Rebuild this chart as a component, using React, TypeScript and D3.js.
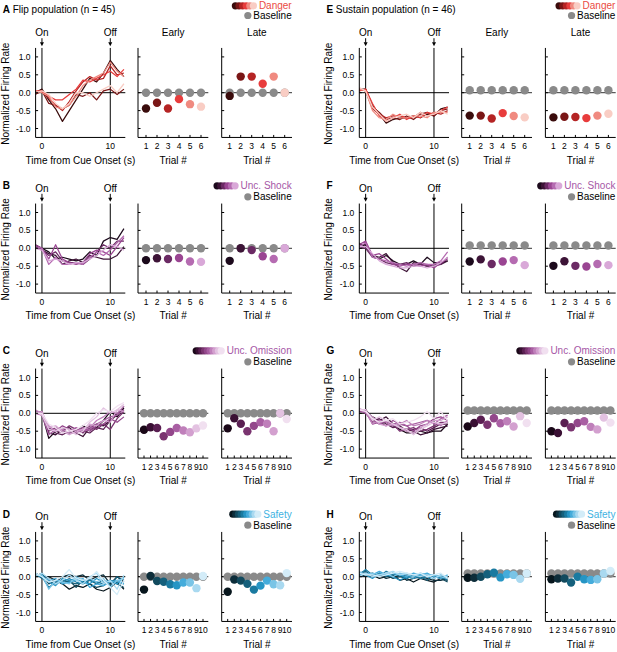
import React, { useEffect, useRef } from 'react';
import * as d3 from 'd3';

// time bins (s) for the population traces
const times = [-1, 0, 1, 2, 3, 4, 5, 6, 7, 8, 9, 10, 11, 12];
const yTicks = [1.0, 0.5, 0.0, -0.5, -1.0];
const yTickLabels = ['1.0', '0.5', '0.0', '-0.5', '-1.0'];
const xTicks = [0, 10];

// colour ramps (trial 1 = darkest)
const dangerColors = ['#3a0c0c', '#7a1616', '#b52424', '#e83c3c', '#f08a80', '#f9cdc4'];
const shockColors = ['#1c0a1c', '#3d1437', '#6b2a64', '#9a4592', '#b56bb1', '#d9a8d8'];
const omissionColors = ['#1a0818', '#3a1034', '#5a1f52', '#7a3470', '#93478b', '#a95fa3', '#bf7fba', '#d3a0cf', '#e3c2e1', '#f1e0f0'];
const safetyColors = ['#07161d', '#0d2d3a', '#124a5e', '#15607c', '#1a7aa0', '#2695c4', '#45acdb', '#79c4e6', '#a9d9f0', '#d3ecf8'];

// ---- A: Flip / Danger
const flipDangerLines = [
    [0.0, 0.1, -0.2, -0.45, -0.8, -0.5, -0.2, 0.1, 0.4, 0.3, 0.55, 0.9, 0.65, 0.45],
    [-0.05, 0.05, -0.3, -0.35, -0.45, -0.35, -0.05, -0.1, 0.0, -0.2, 0.05, 0.1, -0.05, 0.1],
    [0.0, 0.05, -0.15, -0.35, -0.5, -0.25, 0.05, 0.3, 0.45, 0.35, 0.4, 0.75, 0.5, 0.55],
    [0.05, 0.05, -0.1, -0.2, -0.2, -0.05, 0.1, 0.35, 0.3, 0.4, 0.5, 0.6, 0.45, 0.65],
    [0.05, 0.0, -0.1, -0.4, -0.45, -0.35, -0.1, 0.2, 0.35, 0.45, 0.55, 0.85, 0.6, 0.45],
    [0.0, 0.05, -0.05, -0.3, -0.45, -0.3, 0.0, 0.0, -0.1, 0.0, 0.1, 0.2, 0.0, 0.25],
];
const flipDangerEarly = [-0.44, -0.28, -0.44, -0.18, -0.32, -0.39];
const flipDangerLate = [-0.09, 0.45, 0.45, 0.25, 0.45, 0.0];
const flipDangerBaseEarly = [0, 0, 0, 0, 0, 0];
const flipDangerBaseLate = [0, 0, 0, 0, 0, 0];

// ---- B: Flip / Unc. Shock
const flipShockLines = [
    [0.1, 0.0, -0.1, -0.3, -0.25, -0.3, -0.35, -0.3, -0.1, -0.2, 0.2, 0.3, 0.25, 0.55],
    [0.1, -0.05, -0.15, -0.2, -0.45, -0.35, -0.3, -0.4, -0.2, -0.25, -0.3, -0.3, -0.2, 0.05],
    [0.05, -0.05, -0.2, -0.1, -0.35, -0.4, -0.4, -0.45, -0.3, -0.1, 0.1, 0.0, 0.2, 0.2],
    [0.1, 0.0, -0.3, 0.1, -0.3, -0.4, -0.45, -0.4, -0.15, -0.05, -0.1, -0.2, 0.05, 0.3],
    [0.05, 0.0, -0.45, -0.25, -0.45, -0.45, -0.4, -0.45, -0.25, -0.1, -0.2, -0.05, 0.15, 0.35],
    [0.0, -0.05, -0.35, -0.3, -0.35, -0.45, -0.4, -0.4, -0.3, -0.2, -0.05, 0.1, 0.05, -0.05],
];
const flipShockEarly = [-0.33, -0.28, -0.30, -0.27, -0.37, -0.38];
const flipShockLate = [-0.35, 0.0, -0.05, -0.22, -0.30, 0.0];
const flipShockBaseEarly = [0, 0, 0, 0, 0, 0];
const flipShockBaseLate = [0, 0, 0, 0, 0, 0];

// ---- C: Flip / Unc. Omission
const flipOmissionLines = [
    [0.05, 0.0, -0.7, -0.5, -0.5, -0.55, -0.5, -0.35, -0.45, -0.4, -0.2, 0.05, -0.1, 0.15],
    [0.0, 0.05, -0.55, -0.6, -0.45, -0.4, -0.55, -0.65, -0.4, -0.3, -0.35, -0.2, 0.0, 0.1],
    [0.05, -0.05, -0.4, -0.55, -0.6, -0.5, -0.45, -0.5, -0.55, -0.4, -0.45, -0.2, -0.05, 0.2],
    [0.0, 0.05, -0.5, -0.4, -0.5, -0.35, -0.45, -0.55, -0.35, -0.45, -0.3, -0.45, -0.15, 0.05],
    [0.05, 0.0, -0.45, -0.5, -0.35, -0.45, -0.5, -0.4, -0.5, -0.35, -0.3, -0.15, -0.25, -0.1],
    [0.0, -0.05, -0.6, -0.45, -0.55, -0.5, -0.4, -0.5, -0.45, -0.3, -0.2, -0.1, -0.05, 0.1],
    [0.1, 0.0, -0.35, -0.5, -0.45, -0.55, -0.55, -0.45, -0.4, -0.2, -0.1, 0.05, 0.0, 0.2],
    [0.0, 0.05, -0.4, -0.35, -0.5, -0.6, -0.5, -0.45, -0.3, -0.35, -0.2, -0.25, 0.1, 0.05],
    [0.05, -0.05, -0.45, -0.5, -0.4, -0.45, -0.6, -0.5, -0.25, -0.1, 0.15, 0.0, 0.1, 0.25],
    [0.0, 0.0, -0.3, -0.4, -0.55, -0.5, -0.45, -0.35, -0.2, 0.0, 0.1, 0.05, 0.2, 0.3],
];
const flipOmissionEarly = [-0.46, -0.39, -0.41, -0.64, -0.52, -0.41, -0.48, -0.53, -0.42, -0.34];
const flipOmissionLate = [-0.42, -0.14, -0.29, -0.50, -0.35, -0.25, -0.29, -0.50, 0.0, -0.16];
const flipOmissionBaseEarly = [0, 0, 0, 0, 0, 0, 0, 0, 0, 0];
const flipOmissionBaseLate = [0, 0, 0, 0, 0, 0, 0, 0, 0, 0];

// ---- D: Flip / Safety
const flipSafetyLines = [
    [0.1, 0.0, 0.0, -0.1, -0.2, -0.35, -0.25, -0.3, -0.2, -0.35, -0.4, -0.3, -0.15, -0.35],
    [0.05, 0.05, -0.05, -0.15, 0.0, 0.05, 0.0, 0.05, -0.1, 0.0, 0.05, -0.2, 0.0, -0.15],
    [0.0, 0.1, -0.2, -0.1, -0.2, -0.1, -0.3, -0.1, -0.2, -0.3, -0.25, -0.1, -0.2, -0.3],
    [0.1, -0.05, -0.1, -0.2, -0.1, -0.15, -0.2, -0.15, -0.1, -0.2, -0.1, -0.25, 0.0, -0.1],
    [0.05, 0.0, -0.3, -0.15, -0.15, -0.05, -0.15, -0.2, -0.1, -0.15, -0.2, -0.1, -0.15, -0.2],
    [0.0, 0.05, -0.15, -0.25, -0.05, -0.1, -0.05, -0.15, -0.2, -0.05, -0.15, -0.1, -0.2, 0.0],
    [0.1, 0.0, -0.1, -0.05, -0.2, -0.15, -0.1, -0.05, -0.3, -0.2, -0.25, -0.15, -0.1, -0.2],
    [0.05, 0.05, -0.35, -0.1, -0.15, -0.2, 0.0, -0.1, -0.05, -0.15, -0.05, -0.3, -0.1, -0.05],
    [0.0, 0.1, -0.05, -0.2, -0.1, 0.05, -0.1, -0.2, 0.0, 0.1, -0.2, -0.1, -0.35, 0.05],
    [0.1, 0.0, -0.15, -0.1, 0.0, 0.2, -0.05, -0.1, -0.05, 0.15, -0.1, -0.3, -0.5, -0.1],
];
const flipSafetyEarly = [-0.36, 0.02, -0.12, -0.14, -0.21, -0.24, -0.16, -0.16, -0.32, 0.02];
const flipSafetyLate = [-0.42, -0.08, -0.11, -0.20, -0.36, -0.25, -0.11, -0.21, -0.24, 0.10];
const flipSafetyBaseEarly = [0, 0, 0, 0, 0, 0, 0, 0, 0, 0];
const flipSafetyBaseLate = [0, 0, 0, 0, 0, 0, 0, 0, 0, 0];

// ---- E: Sustain / Danger
const sustainDangerLines = [
    [0.1, 0.1, -0.35, -0.6, -0.85, -0.75, -0.7, -0.7, -0.65, -0.7, -0.6, -0.65, -0.45, -0.4],
    [0.05, 0.1, -0.4, -0.55, -0.75, -0.7, -0.75, -0.65, -0.75, -0.6, -0.55, -0.65, -0.5, -0.45],
    [0.1, 0.05, -0.45, -0.6, -0.7, -0.65, -0.65, -0.7, -0.7, -0.55, -0.65, -0.55, -0.6, -0.5],
    [0.05, 0.1, -0.3, -0.65, -0.8, -0.7, -0.6, -0.75, -0.65, -0.7, -0.55, -0.6, -0.5, -0.4],
    [0.1, 0.05, -0.5, -0.7, -0.75, -0.6, -0.7, -0.7, -0.65, -0.65, -0.7, -0.55, -0.55, -0.55],
    [0.15, 0.05, -0.4, -0.6, -0.8, -0.7, -0.65, -0.6, -0.7, -0.55, -0.65, -0.6, -0.5, -0.6],
];
const sustainDangerEarly = [-0.64, -0.64, -0.72, -0.57, -0.65, -0.69];
const sustainDangerLate = [-0.69, -0.67, -0.68, -0.71, -0.64, -0.59];
const sustainDangerBaseEarly = [0.07, 0.07, 0.07, 0.07, 0.07, 0.07];
const sustainDangerBaseLate = [0.07, 0.07, 0.07, 0.07, 0.07, 0.07];

// ---- F: Sustain / Unc. Shock
const sustainShockLines = [
    [0.15, 0.05, -0.2, -0.3, -0.2, -0.35, -0.45, -0.45, -0.35, -0.45, -0.25, -0.4, -0.4, -0.35],
    [0.1, 0.1, -0.2, -0.25, -0.15, -0.4, -0.55, -0.65, -0.4, -0.45, -0.5, -0.45, -0.45, -0.35],
    [0.05, 0.0, -0.25, -0.3, -0.4, -0.45, -0.45, -0.4, -0.5, -0.45, -0.5, -0.5, -0.45, -0.25],
    [0.1, 0.2, -0.2, -0.15, -0.3, -0.45, -0.5, -0.45, -0.45, -0.5, -0.45, -0.55, -0.4, -0.3],
    [0.05, 0.15, -0.25, -0.3, -0.35, -0.4, -0.45, -0.5, -0.45, -0.4, -0.45, -0.45, -0.35, -0.1],
    [0.05, 0.05, -0.15, -0.35, -0.45, -0.5, -0.55, -0.55, -0.5, -0.5, -0.55, -0.5, -0.4, -0.25],
];
const sustainShockEarly = [-0.37, -0.31, -0.44, -0.37, -0.33, -0.47];
const sustainShockLate = [-0.49, -0.36, -0.49, -0.51, -0.44, -0.47];
const sustainShockBaseEarly = [0.08, 0.08, 0.08, 0.08, 0.08, 0.08];
const sustainShockBaseLate = [0.08, 0.08, 0.08, 0.08, 0.08, 0.08];

// ---- G: Sustain / Unc. Omission
const sustainOmissionLines = [
    [0.1, 0.1, -0.15, -0.3, -0.25, -0.35, -0.45, -0.55, -0.55, -0.5, -0.55, -0.5, -0.5, -0.3],
    [0.05, 0.05, -0.1, -0.2, -0.1, -0.3, -0.4, -0.45, -0.5, -0.6, -0.55, -0.45, -0.4, -0.35],
    [0.1, 0.0, -0.2, -0.15, -0.3, -0.4, -0.35, -0.5, -0.45, -0.4, -0.5, -0.4, -0.3, -0.3],
    [0.1, 0.1, -0.25, -0.2, -0.25, -0.3, -0.5, -0.45, -0.4, -0.5, -0.45, -0.35, -0.25, -0.25],
    [0.05, 0.05, -0.3, -0.25, -0.35, -0.2, -0.3, -0.35, -0.5, -0.35, -0.3, -0.15, -0.1, -0.2],
    [0.1, 0.0, -0.2, -0.3, -0.2, -0.3, -0.25, -0.35, -0.3, -0.25, -0.2, -0.3, -0.15, -0.05],
    [0.1, 0.05, -0.3, -0.2, -0.25, -0.35, -0.3, -0.2, -0.35, -0.3, -0.2, -0.25, -0.35, -0.2],
    [0.15, 0.05, -0.1, -0.3, -0.35, -0.3, -0.4, -0.5, -0.55, -0.4, -0.3, -0.2, -0.2, -0.1],
    [0.1, 0.1, -0.2, -0.1, -0.2, -0.3, -0.4, -0.45, -0.6, -0.45, -0.35, -0.25, -0.3, -0.25],
    [0.1, 0.05, -0.15, -0.25, -0.2, -0.15, -0.3, -0.25, -0.2, -0.1, 0.05, -0.15, 0.05, -0.2],
];
const sustainOmissionEarly = [-0.37, -0.27, -0.18, -0.32, -0.14, -0.28, -0.22, -0.37, -0.08, -0.27];
const sustainOmissionLate = [-0.50, -0.55, -0.27, -0.39, -0.27, -0.22, -0.38, -0.45, -0.12, -0.26];
const sustainOmissionBaseEarly = [0.08, 0.08, 0.08, 0.08, 0.08, 0.08, 0.08, 0.08, 0.08, 0.08];
const sustainOmissionBaseLate = [0.08, 0.08, 0.08, 0.08, 0.08, 0.08, 0.08, 0.08, 0.08, 0.08];

// ---- H: Sustain / Safety
const sustainSafetyLines = [
    [0.05, 0.0, 0.05, -0.05, 0.0, 0.05, -0.1, -0.05, -0.15, -0.05, -0.1, -0.15, -0.05, -0.1],
    [0.1, 0.1, 0.0, 0.05, -0.05, 0.0, 0.05, -0.1, -0.05, 0.0, -0.05, -0.1, -0.1, -0.05],
    [0.0, 0.05, 0.1, 0.0, 0.05, -0.05, 0.0, 0.05, 0.0, -0.05, 0.05, 0.0, -0.05, -0.15],
    [0.1, 0.15, 0.0, 0.1, 0.0, 0.1, 0.0, -0.05, 0.05, 0.0, -0.1, 0.05, -0.05, 0.0],
    [0.05, 0.2, 0.05, 0.0, 0.15, 0.05, 0.05, -0.05, 0.05, -0.05, 0.0, 0.05, 0.0, -0.1],
    [0.1, 0.05, -0.05, 0.1, 0.05, 0.0, -0.1, 0.0, -0.05, 0.05, 0.0, -0.05, 0.05, -0.05],
    [0.05, 0.1, 0.05, 0.15, 0.05, 0.1, 0.05, 0.0, 0.1, 0.05, 0.1, 0.0, -0.05, 0.05],
    [0.15, 0.05, 0.1, 0.05, 0.1, 0.0, 0.1, 0.05, 0.0, 0.1, 0.05, 0.05, 0.0, -0.05],
    [0.0, 0.1, 0.0, 0.05, 0.1, 0.15, 0.05, 0.1, 0.05, 0.0, 0.05, -0.05, 0.05, 0.0],
    [0.1, 0.05, 0.05, 0.0, 0.05, 0.1, 0.15, 0.1, 0.05, 0.1, 0.0, 0.05, 0.1, -0.05],
];
const sustainSafetyEarly = [-0.03, -0.03, 0.0, 0.07, 0.11, -0.02, 0.07, 0.05, -0.06, 0.09];
const sustainSafetyLate = [-0.07, -0.05, -0.05, -0.16, 0.0, -0.07, -0.09, -0.07, 0.09, 0.16];
const sustainSafetyBaseEarly = [0.09, 0.09, 0.09, 0.09, 0.09, 0.09, 0.09, 0.09, 0.09, 0.09];
const sustainSafetyBaseLate = [0.09, 0.09, 0.09, 0.09, 0.09, 0.09, 0.09, 0.09, 0.09, 0.09];

const panels = [
    { letter: 'A', title: 'Flip population (n = 45)', col: 0, row: 0, cue: 'Danger', cueColor: '#ea4b43', colors: dangerColors, lines: flipDangerLines, early: flipDangerEarly, late: flipDangerLate, baseEarly: flipDangerBaseEarly, baseLate: flipDangerBaseLate },
    { letter: 'B', title: '', col: 0, row: 1, cue: 'Unc. Shock', cueColor: '#a657a6', colors: shockColors, lines: flipShockLines, early: flipShockEarly, late: flipShockLate, baseEarly: flipShockBaseEarly, baseLate: flipShockBaseLate },
    { letter: 'C', title: '', col: 0, row: 2, cue: 'Unc. Omission', cueColor: '#a657a6', colors: omissionColors, lines: flipOmissionLines, early: flipOmissionEarly, late: flipOmissionLate, baseEarly: flipOmissionBaseEarly, baseLate: flipOmissionBaseLate },
    { letter: 'D', title: '', col: 0, row: 3, cue: 'Safety', cueColor: '#3eb2e2', colors: safetyColors, lines: flipSafetyLines, early: flipSafetyEarly, late: flipSafetyLate, baseEarly: flipSafetyBaseEarly, baseLate: flipSafetyBaseLate },
    { letter: 'E', title: 'Sustain population (n = 46)', col: 1, row: 0, cue: 'Danger', cueColor: '#ea4b43', colors: dangerColors, lines: sustainDangerLines, early: sustainDangerEarly, late: sustainDangerLate, baseEarly: sustainDangerBaseEarly, baseLate: sustainDangerBaseLate },
    { letter: 'F', title: '', col: 1, row: 1, cue: 'Unc. Shock', cueColor: '#a657a6', colors: shockColors, lines: sustainShockLines, early: sustainShockEarly, late: sustainShockLate, baseEarly: sustainShockBaseEarly, baseLate: sustainShockBaseLate },
    { letter: 'G', title: '', col: 1, row: 2, cue: 'Unc. Omission', cueColor: '#a657a6', colors: omissionColors, lines: sustainOmissionLines, early: sustainOmissionEarly, late: sustainOmissionLate, baseEarly: sustainOmissionBaseEarly, baseLate: sustainOmissionBaseLate },
    { letter: 'H', title: '', col: 1, row: 3, cue: 'Safety', cueColor: '#3eb2e2', colors: safetyColors, lines: sustainSafetyLines, early: sustainSafetyEarly, late: sustainSafetyLate, baseEarly: sustainSafetyBaseEarly, baseLate: sustainSafetyBaseLate },
];

const FONT = 'Arial, "Liberation Sans", Helvetica, sans-serif';
const colX = [0, 323.7];
const rowZero = [92.7, 248.3, 413.3, 576.7];
const HALF = 44.75; // px from zero to axis top/bottom (1.25 units)

const App: React.FC = () => {
    const svgRef = useRef<SVGSVGElement>(null);

    useEffect(() => {
        const root = d3.select(svgRef.current);
        root.selectAll('*').remove();
        const svg = root.append('g').style('font-family', FONT);

        panels.forEach((p, pi) => {
            const ox = colX[p.col];
            const zero = rowZero[p.row];
            const g = svg.append('g');

            const y = d3.scaleLinear().domain([-1.25, 1.25]).range([zero + HALF, zero - HALF]);
            const top = y(1.25), bottom = y(-1.25);

            // ----- title / panel letter
            if (p.title) {
                const t = g.append('text').attr('x', 2.7 + ox).attr('y', zero - 80.2)
                    .attr('font-size', 10).attr('fill', '#000');
                t.append('tspan').attr('font-weight', 'bold').text(p.letter);
                t.append('tspan').text(' ' + p.title);
            } else {
                g.append('text').attr('x', 2.7 + ox).attr('y', zero - 59)
                    .attr('font-size', 10).attr('font-weight', 'bold').text(p.letter);
            }

            // ----- legend
            const legRight = 291.7 + ox;
            const leg1 = p.title ? zero - 83.4 : zero - 59;
            const leg2 = p.title ? zero - 73.7 : zero - 48;
            const cueText = g.append('text').attr('x', legRight).attr('y', leg1)
                .attr('text-anchor', 'end').attr('font-size', 10).attr('fill', p.cueColor).text(p.cue);
            const baseText = g.append('text').attr('x', legRight).attr('y', leg2)
                .attr('text-anchor', 'end').attr('font-size', 10).attr('fill', '#000').text('Baseline');
            const cueW = (cueText.node() as SVGTextElement).getComputedTextLength();
            const baseW = (baseText.node() as SVGTextElement).getComputedTextLength();
            const n = p.colors.length;
            const lastCx = legRight - cueW - 5.5;
            const span = n === 6 ? 18 : 25;
            const legX = d3.scaleLinear().domain([0, n - 1]).range([lastCx - span, lastCx]);
            g.append('g').selectAll('circle').data(p.colors).enter().append('circle')
                .attr('cx', (_, i) => legX(i)).attr('cy', leg1 - 3.5).attr('r', 3.6)
                .attr('fill', d => d);
            g.append('circle').attr('cx', legRight - baseW - 5.5).attr('cy', leg2 - 3.5)
                .attr('r', 3.6).attr('fill', '#8a8a8a');

            // ----- line plot
            const x = d3.scaleLinear().domain([-0.93, 12.2]).range([35.6 + ox, 125.3 + ox]);
            const clipId = `clip-${pi}`;
            g.append('clipPath').attr('id', clipId).append('rect')
                .attr('x', x(-0.93)).attr('y', top - 5).attr('width', x(12.2) - x(-0.93) + 1)
                .attr('height', bottom - top + 10);

            // zero line & cue on/off lines
            g.append('line').attr('x1', x(-0.93)).attr('x2', x(12.2)).attr('y1', y(0)).attr('y2', y(0))
                .attr('stroke', '#000').attr('stroke-width', 1);
            xTicks.forEach(t => {
                g.append('line').attr('x1', x(t)).attr('x2', x(t)).attr('y1', top).attr('y2', bottom)
                    .attr('stroke', '#000').attr('stroke-width', 1);
            });

            const line = d3.line<number>().x((_, i) => x(times[i])).y(d => y(d));
            g.append('g').attr('clip-path', `url(#${clipId})`)
                .selectAll('path').data(p.lines).enter().append('path')
                .attr('d', d => line(d))
                .attr('fill', 'none')
                .attr('stroke', (_, i) => p.colors[i])
                .attr('stroke-width', 1.25)
                .attr('stroke-linejoin', 'round');

            // axes
            g.append('line').attr('x1', x(-0.93)).attr('x2', x(-0.93)).attr('y1', top).attr('y2', bottom)
                .attr('stroke', '#000');
            g.append('line').attr('x1', x(-0.93)).attr('x2', x(12.2)).attr('y1', bottom).attr('y2', bottom)
                .attr('stroke', '#000');
            yTicks.forEach((t, i) => {
                g.append('line').attr('x1', x(-0.93)).attr('x2', x(-0.93) + 2.5).attr('y1', y(t)).attr('y2', y(t))
                    .attr('stroke', '#000');
                g.append('text').attr('x', x(-0.93) - 5).attr('y', y(t) + 3)
                    .attr('text-anchor', 'end').attr('font-size', 8.5).text(yTickLabels[i]);
            });
            xTicks.forEach(t => {
                g.append('text').attr('x', x(t)).attr('y', zero + 56.5)
                    .attr('text-anchor', 'middle').attr('font-size', 8.5).text(String(t));
            });
            g.append('text').attr('x', (x(-0.93) + x(12.2)) / 2).attr('y', zero + 71)
                .attr('text-anchor', 'middle').attr('font-size', 10).text('Time from Cue Onset (s)');
            g.append('text')
                .attr('transform', `translate(${8.6 + ox},${zero + 1}) rotate(-90)`)
                .attr('text-anchor', 'middle').attr('font-size', 10).text('Normalized Firing Rate');

            // On / Off markers
            [['On', 0], ['Off', 10]].forEach(([label, t]) => {
                const cx = x(t as number);
                g.append('text').attr('x', cx).attr('y', zero - 56.5)
                    .attr('text-anchor', 'middle').attr('font-size', 10).text(label as string);
                g.append('line').attr('x1', cx).attr('x2', cx).attr('y1', zero - 54.5).attr('y2', zero - 50)
                    .attr('stroke', '#000');
                g.append('path')
                    .attr('d', `M${cx - 2},${zero - 50.5}L${cx + 2},${zero - 50.5}L${cx},${zero - 46.5}Z`)
                    .attr('fill', '#000');
            });

            // ----- dot plots (Early / Late titles only on the top row)
            const dotPlots = [
                { left: 138 + ox, title: 'Early', vals: p.early, base: p.baseEarly },
                { left: 221.7 + ox, title: 'Late', vals: p.late, base: p.baseLate },
            ];
            dotPlots.forEach(dp => {
                const right = dp.left + 70.3;
                const xt = d3.scaleLinear().domain([1, n])
                    .range(n === 6 ? [dp.left + 8, dp.left + 63] : [dp.left + 6, dp.left + 65]);
                const trials = d3.range(1, n + 1);

                if (p.row === 0) {
                    g.append('text').attr('x', (dp.left + right) / 2).attr('y', zero - 56.5)
                        .attr('text-anchor', 'middle').attr('font-size', 10).text(dp.title);
                }

                g.append('line').attr('x1', dp.left).attr('x2', right).attr('y1', y(0)).attr('y2', y(0))
                    .attr('stroke', '#333');
                g.append('line').attr('x1', dp.left).attr('x2', dp.left).attr('y1', top).attr('y2', bottom)
                    .attr('stroke', '#000');
                g.append('line').attr('x1', dp.left).attr('x2', right).attr('y1', bottom).attr('y2', bottom)
                    .attr('stroke', '#000');
                yTicks.forEach(t => {
                    g.append('line').attr('x1', dp.left).attr('x2', dp.left + 2.5).attr('y1', y(t)).attr('y2', y(t))
                        .attr('stroke', '#000');
                });
                trials.forEach(t => {
                    g.append('line').attr('x1', xt(t)).attr('x2', xt(t)).attr('y1', bottom).attr('y2', bottom - 2.5)
                        .attr('stroke', '#000');
                    g.append('text').attr('x', xt(t)).attr('y', zero + 56.5)
                        .attr('text-anchor', 'middle').attr('font-size', 8.5).text(String(t));
                });
                g.append('text').attr('x', (dp.left + right) / 2).attr('y', zero + 71)
                    .attr('text-anchor', 'middle').attr('font-size', 10).text('Trial #');

                g.append('g').selectAll('circle').data(dp.base).enter().append('circle')
                    .attr('cx', (_, i) => xt(i + 1)).attr('cy', d => y(d)).attr('r', 4.2)
                    .attr('fill', '#8a8a8a');
                g.append('g').selectAll('circle').data(dp.vals).enter().append('circle')
                    .attr('cx', (_, i) => xt(i + 1)).attr('cy', d => y(d)).attr('r', 4.2)
                    .attr('fill', (_, i) => p.colors[i]);
            });
        });
    }, []);

    return (
        <svg ref={svgRef} width={617} height={652}
            style={{ position: 'absolute', left: 0, top: 0, background: '#fff' }} />
    );
};

export default App;
